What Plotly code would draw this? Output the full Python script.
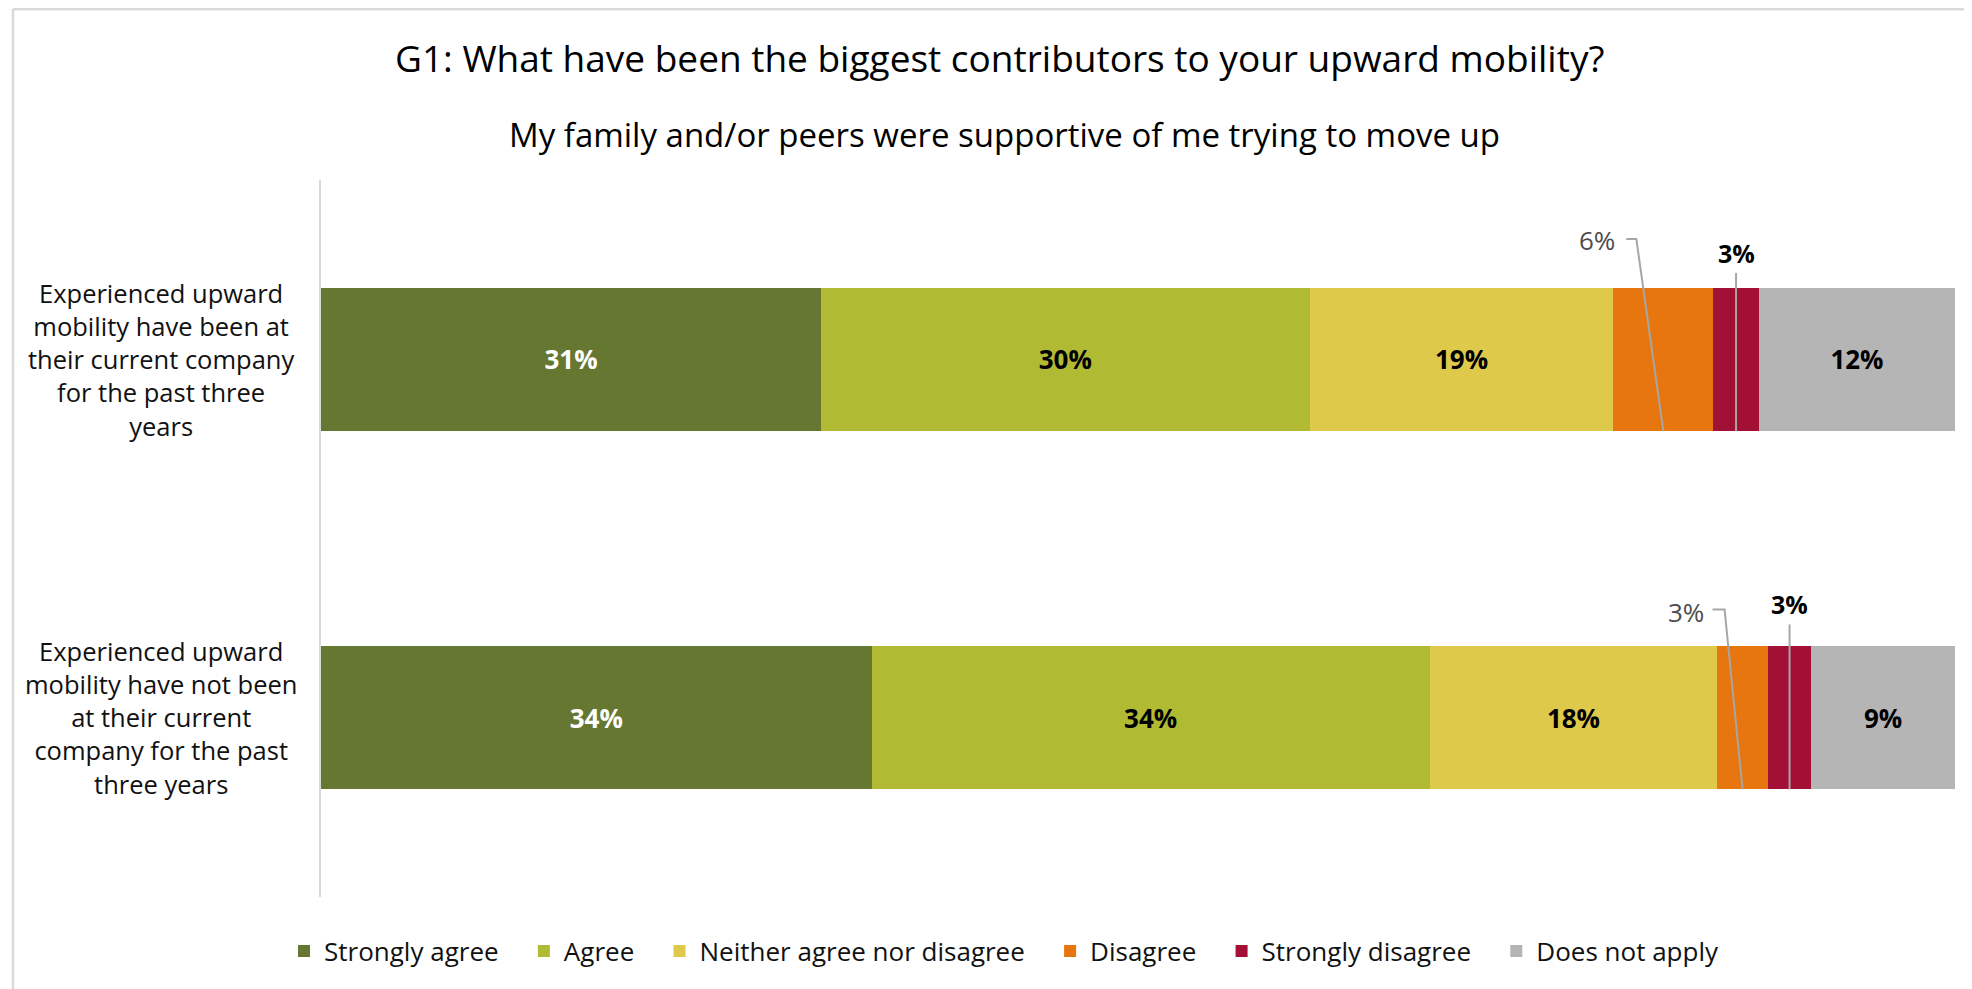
import plotly.graph_objects as go

# ---------------- data ----------------
categories = ["Been at current company", "Not been at current company"]
category_labels = [
    "Experienced upward<br>mobility have been at<br>their current company<br>for the past three<br>years",
    "Experienced upward<br>mobility have not been<br>at their current<br>company for the past<br>three years",
]
series_names = ["Strongly agree", "Agree", "Neither agree nor disagree",
                "Disagree", "Strongly disagree", "Does not apply"]
strongly_agree = [30.6, 33.7]
agree = [29.9, 34.15]
neither = [18.6, 17.6]
disagree = [6.1, 3.1]
strongly_disagree = [2.8, 2.65]
does_not_apply = [12.0, 8.8]
series_values = [strongly_agree, agree, neither, disagree, strongly_disagree, does_not_apply]

# ---------------- style ----------------
colors = ["#667731", "#b0bb33", "#dfc94b", "#e8760e", "#a31036", "#b5b5b5"]
label_colors = ["white", "black", "black", None, None, "black"]
FONT = "Open Sans"
BAR_W = 0.4
PAD = "\u00a0\u00a0\u00a0"  # extra spacing between legend entries

fig = go.Figure()
n_series = len(series_names)
for k, (name, vals, col, lc) in enumerate(zip(series_names, series_values, colors, label_colors)):
    inside = lc is not None
    fig.add_trace(go.Bar(
        y=categories, x=vals, name=name + (PAD if k < n_series - 1 else ""), orientation="h",
        marker=dict(color=col, line=dict(width=0)),
        width=BAR_W,
        text=[f"{round(v)}%" for v in vals] if inside else None,
        textposition="inside" if inside else "none",
        insidetextanchor="middle",
        textangle=0,
        textfont=dict(family=FONT, size=26, color=lc if lc else "black", weight="bold"),
        hoverinfo="skip",
    ))

shapes = []
annotations = []

# callouts for small segments (Disagree: grey elbow leader; Strongly disagree: straight)
# pixel offsets per row: (dx_elbow, height, dx_end, label_dx, label_dy)
dis_leader = [(-27, 192, -37, -66, 191), (-18, 180, -30, -57, 177)]
sd_leader = [(158, 178), (165, 185)]
for i in range(len(categories)):
    start_dis = strongly_agree[i] + agree[i] + neither[i]
    mid_dis = start_dis + disagree[i] / 2
    mid_sd = start_dis + disagree[i] + strongly_disagree[i] / 2
    ybot = i + BAR_W / 2
    ex, h, hx, lx, ly = dis_leader[i]
    shapes.append(dict(type="path", xref="x", yref="y", xsizemode="pixel", ysizemode="pixel",
                       xanchor=mid_dis, yanchor=ybot,
                       path=f"M0,0 L{ex},{h} L{hx},{h}",
                       line=dict(color="#a6a6a6", width=2), layer="above"))
    annotations.append(dict(x=mid_dis, y=ybot, xref="x", yref="y", xshift=lx, yshift=ly,
                            text=f"{round(disagree[i])}%", showarrow=False,
                            font=dict(family=FONT, size=26, color="#4d4d4d"),
                            xanchor="center", yanchor="middle"))
    sh, sly = sd_leader[i]
    shapes.append(dict(type="path", xref="x", yref="y", xsizemode="pixel", ysizemode="pixel",
                       xanchor=mid_sd, yanchor=ybot,
                       path=f"M0,0 L0,{sh}",
                       line=dict(color="#a6a6a6", width=2), layer="above"))
    annotations.append(dict(x=mid_sd, y=ybot, xref="x", yref="y", yshift=sly,
                            text=f"{round(strongly_disagree[i])}%", showarrow=False,
                            font=dict(family=FONT, size=25, color="black", weight="bold"),
                            xanchor="center", yanchor="middle"))

# category labels (centered multi-line)
for i, lab in enumerate(category_labels):
    annotations.append(dict(x=-0.098, y=i, xref="paper", yref="y", text=lab, showarrow=False,
                            align="center", xanchor="center", yanchor="middle",
                            font=dict(family=FONT, size=25.5, color="#111111")))

# title and subtitle
annotations.append(dict(x=0.415, y=1.1715, xref="paper", yref="paper",
                        text="G1: What have been the biggest contributors to your upward mobility?",
                        showarrow=False, xanchor="center", yanchor="middle",
                        font=dict(family=FONT, size=37, color="black")))
annotations.append(dict(x=0.418, y=1.063, xref="paper", yref="paper",
                        text="My family and/or peers were supportive of me trying to move up",
                        showarrow=False, xanchor="center", yanchor="middle",
                        font=dict(family=FONT, size=33, color="black")))

# chart frame (top and left edges visible)
shapes.append(dict(type="line", xref="paper", yref="paper", x0=-0.1885, x1=1.02, y0=1.2385, y1=1.2385,
                   line=dict(color="#d9d9d9", width=3), layer="above"))
shapes.append(dict(type="line", xref="paper", yref="paper", x0=-0.1885, x1=-0.1885, y0=-0.13, y1=1.2385,
                   line=dict(color="#d9d9d9", width=2.5), layer="above"))

fig.update_layout(
    barmode="stack",
    width=1964, height=981,
    margin=dict(l=313, r=17, t=172, b=92),
    paper_bgcolor="white", plot_bgcolor="white",
    font=dict(family=FONT, color="black"),
    showlegend=True,
    legend=dict(orientation="h", x=0.418, xanchor="center", y=-0.0753, yanchor="middle",
                font=dict(family=FONT, size=26, color="#111111"),
                traceorder="normal", itemwidth=30),
    xaxis=dict(range=[0, 100], autorange=False, visible=False, fixedrange=True),
    yaxis=dict(range=[1.5, -0.5], autorange=False, showticklabels=False, showgrid=False,
               showline=True, linecolor="#d9d9d9", linewidth=2, ticks="", zeroline=False),
    shapes=shapes,
    annotations=annotations,
)

fig.write_html("out.html")
